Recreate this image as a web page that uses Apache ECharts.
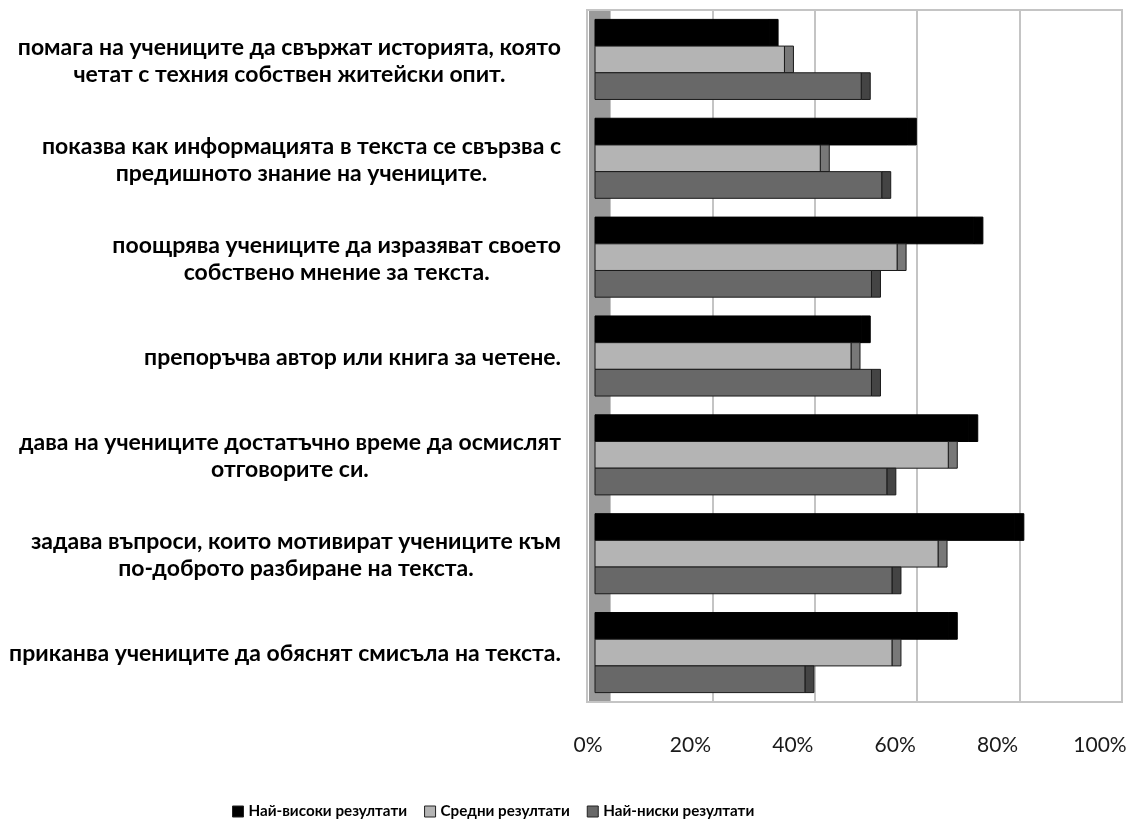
<!DOCTYPE html>
<html>
<head>
<meta charset="utf-8">
<script src="https://cdn.jsdelivr.net/npm/echarts@6/dist/echarts.min.js"></script>
<style>
  html, body { margin: 0; padding: 0; background: #fff; }
  #chart { width: 1134px; height: 826px; }
</style>
</head>
<body>
<div id="chart"></div>
<script>
// Categories (top to bottom) and results per group, in percent
const categories = [
  'помага на учениците да свържат историята, която\nчетат с техния собствен житейски опит.',
  'показва как информацията в текста се свързва с\nпредишното знание на учениците.',
  'поощрява учениците да изразяват своето\nсобствено мнение за текста.',
  'препоръчва автор или книга за четене.',
  'дава на учениците достатъчно време да осмислят\nотговорите си.',
  'задава въпроси, които мотивират учениците към\nпо-доброто разбиране на текста.',
  'приканва учениците да обяснят смисъла на текста.'
];
const seriesNames = ['Най-високи резултати', 'Средни резултати', 'Най-ниски резултати'];
const highResults = [34, 61, 74, 52, 73, 82, 69];
const midResults  = [37, 44, 59, 50, 69, 67, 58];
const lowResults  = [52, 56, 54, 54, 57, 58, 41];
const tickValues  = [0, 20, 40, 60, 80, 100];

const FONT = 'Lato, "Open Sans", "Noto Sans", sans-serif';
const frontColors = ['#000000', '#b4b4b4', '#686868'];
const sideColors  = ['#000000', '#787878', '#444444'];
const edgeColors  = ['#000000', '#1a1a1a', '#1a1a1a'];
const BAR_FRAC = 0.27;   // share of a category band taken by one bar
const DEPTH = 9;         // visible side face of each bar, px

function makeRenderer(idx) {
  return function (params, api) {
    const cat = api.value(1);
    const val = api.value(0);
    const start = api.coord([0, cat]);
    const end = api.coord([val, cat]);
    const band = api.size([0, 1])[1];
    const h = band * BAR_FRAC;
    const y = start[1] - 1.5 * h + idx * h;
    return {
      type: 'group',
      children: [
        {
          type: 'rect',
          shape: { x: end[0], y: y, width: DEPTH, height: h },
          style: { fill: sideColors[idx], stroke: edgeColors[idx], lineWidth: 1 }
        },
        {
          type: 'rect',
          shape: { x: start[0], y: y, width: end[0] - start[0], height: h },
          style: { fill: frontColors[idx], stroke: edgeColors[idx], lineWidth: 1 }
        }
      ]
    };
  };
}

function toPairs(arr) {
  return arr.map((v, i) => [v, i]);
}

const chart = echarts.init(document.getElementById('chart'), null, { renderer: 'canvas' });

const PLOT_TOP = 10, PLOT_BOTTOM = 124;

const option = {
  backgroundColor: '#ffffff',
  animation: false,
  grid: [
    // bars (front plane)
    { left: 595, right: 27, top: PLOT_TOP, bottom: PLOT_BOTTOM },
    // tick labels along the floor edge
    { left: 588, right: 34, top: PLOT_TOP, bottom: PLOT_BOTTOM },
    // back wall with gridlines
    { left: 610, right: 12, top: PLOT_TOP, bottom: PLOT_BOTTOM }
  ],
  xAxis: [
    { gridIndex: 0, type: 'value', min: 0, max: 100, show: false },
    {
      gridIndex: 1, type: 'value', min: 0, max: 100, interval: 20,
      axisLine: { show: false }, axisTick: { show: false }, splitLine: { show: false },
      axisLabel: {
        margin: 33, fontSize: 21, color: '#1a1a1a', fontFamily: FONT,
        formatter: v => tickValues.includes(v) ? v + '%' : ''
      }
    },
    {
      gridIndex: 2, type: 'value', min: 0, max: 100, interval: 20,
      axisLine: { show: false }, axisTick: { show: false }, axisLabel: { show: false },
      splitLine: { show: true, lineStyle: { color: '#c4c4c4', width: 2 } }
    }
  ],
  yAxis: [
    {
      gridIndex: 0, type: 'category', data: categories, inverse: true,
      axisLine: { show: false }, axisTick: { show: false },
      axisLabel: {
        margin: 34, align: 'right', fontFamily: FONT,
        formatter: v => v.split('\n').map(s => '{c|' + s + '}').join('\n'),
        rich: {
          c: { align: 'center', fontSize: 23, fontWeight: 'bold', color: '#000',
               lineHeight: 27, fontFamily: FONT, padding: [3, 0, 0, 0] }
        }
      }
    },
    { gridIndex: 1, type: 'category', data: categories, inverse: true, show: false },
    { gridIndex: 2, type: 'category', data: categories, inverse: true, show: false }
  ],
  legend: {
    left: 227, top: 799,
    itemWidth: 11, itemHeight: 11, itemGap: 17,
    icon: 'rect',
    textStyle: { fontFamily: FONT, fontSize: 15.2, fontWeight: 'bold', color: '#000' },
    data: seriesNames.map((n, i) => ({
      name: n,
      itemStyle: { color: frontColors[i], borderColor: '#222', borderWidth: 1 }
    }))
  },
  series: [highResults, midResults, lowResults].map((arr, i) => ({
    type: 'custom',
    name: seriesNames[i],
    xAxisIndex: 0, yAxisIndex: 0,
    z: 5,
    renderItem: makeRenderer(i),
    itemStyle: { color: frontColors[i] },
    encode: { x: 0, y: 1 },
    data: toPairs(arr)
  }))
};

chart.setOption(option);

// Plot frame and the grey left wall, placed from the back-wall axis
const wallRect = chart.getModel().getComponent('grid', 2).coordinateSystem.getRect();
const wallZero = chart.convertToPixel({ xAxisIndex: 2 }, 0);
const wallEnd = chart.convertToPixel({ xAxisIndex: 2 }, 100);
const frameLeft = wallZero - 23;
chart.setOption({
  graphic: [
    {
      type: 'rect', z: 0, silent: true,
      shape: { x: frameLeft, y: wallRect.y, width: wallEnd - frameLeft, height: wallRect.height },
      style: { fill: 'none', stroke: '#c4c4c4', lineWidth: 2 }
    },
    {
      type: 'rect', z: 1, silent: true,
      shape: { x: frameLeft + 2, y: wallRect.y + 1, width: wallZero - frameLeft - 2, height: wallRect.height - 2 },
      style: { fill: '#9a9a9a' }
    }
  ]
});
</script>
</body>
</html>
